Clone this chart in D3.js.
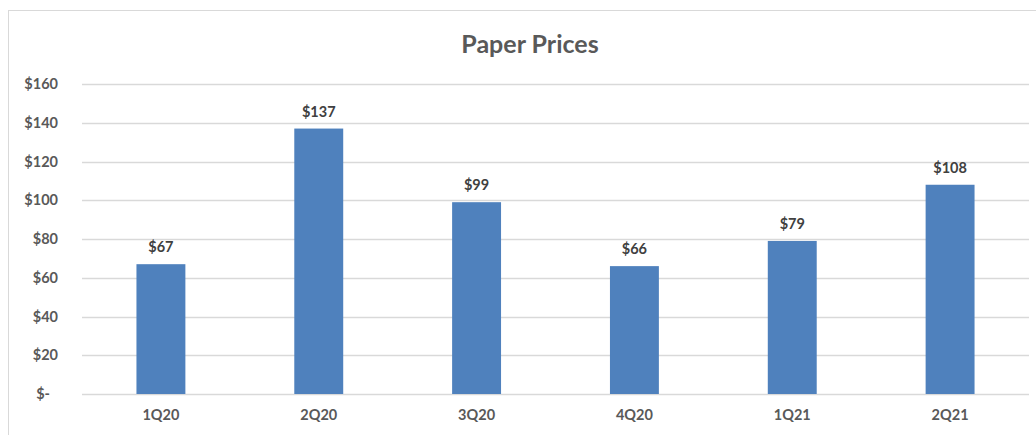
<!DOCTYPE html>
<html>
<head>
<meta charset="utf-8">
<script src="https://cdn.jsdelivr.net/npm/d3@7"></script>
<style>
  body { margin: 0; background: #fff; }
  text { font-family: Lato, "Open Sans", sans-serif; font-weight: bold; }
</style>
</head>
<body>
<svg id="chart" width="1036" height="435"></svg>
<script>
var quarters = ["1Q20", "2Q20", "3Q20", "4Q20", "1Q21", "2Q21"];
var prices = [67, 137, 99, 66, 79, 108];
var yTicks = [0, 20, 40, 60, 80, 100, 120, 140, 160];

var svg = d3.select("svg#chart");
var plotLeft = 82, plotRight = 1029, plotTop = 84, plotBottom = 394;

// chart frame
svg.append("rect")
   .attr("x", 8.5).attr("y", 10.5)
   .attr("width", 1040).attr("height", 440)
   .attr("fill", "white")
   .attr("stroke", "#d9d9d9");

svg.append("text")
   .text("Paper Prices")
   .attr("x", 530).attr("y", 53)
   .attr("text-anchor", "middle")
   .attr("fill", "#595959")
   .style("font-size", "25px");

var xScale = d3.scaleBand().domain(quarters).range([plotLeft, plotRight])
               .paddingInner(0.69).paddingOuter(0.345);
var yScale = d3.scaleLinear().domain([0, 160]).range([plotBottom, plotTop]);

// gridlines
svg.selectAll("line.grid")
   .data(yTicks)
   .enter().append("line")
   .attr("class", "grid")
   .attr("x1", plotLeft).attr("x2", plotRight)
   .attr("y1", function(d){ return Math.round(yScale(d)) + 0.5; })
   .attr("y2", function(d){ return Math.round(yScale(d)) + 0.5; })
   .attr("stroke", "#d9d9d9")
   .attr("stroke-width", 1.3);

// y labels
svg.selectAll("text.ylabel")
   .data(yTicks)
   .enter().append("text")
   .attr("class", "ylabel")
   .text(function(d){ return d === 0 ? "$-" : "$" + d; })
   .attr("x", function(d){ return d === 0 ? 50 : 58; })
   .attr("y", function(d){ return yScale(d) + 5; })
   .attr("text-anchor", "end")
   .attr("fill", "#595959")
   .style("font-size", "14.5px");

// bars
svg.selectAll("rect.bar")
   .data(prices)
   .enter().append("rect")
   .attr("class", "bar")
   .attr("x", function(d, i){ return xScale(quarters[i]); })
   .attr("width", xScale.bandwidth())
   .attr("y", function(d){ return yScale(d); })
   .attr("height", function(d){ return yScale(0) - yScale(d); })
   .attr("fill", "#4f81bd");

// data labels
svg.selectAll("text.vlabel")
   .data(prices)
   .enter().append("text")
   .attr("class", "vlabel")
   .text(function(d){ return "$" + d; })
   .attr("x", function(d, i){ return xScale(quarters[i]) + xScale.bandwidth() / 2; })
   .attr("y", function(d){ return yScale(d) - 12; })
   .attr("text-anchor", "middle")
   .attr("fill", "#404040")
   .style("font-size", "14.5px");

// x labels
svg.selectAll("text.xlabel")
   .data(quarters)
   .enter().append("text")
   .attr("class", "xlabel")
   .text(function(d){ return d; })
   .attr("x", function(d){ return xScale(d) + xScale.bandwidth() / 2; })
   .attr("y", 420)
   .attr("text-anchor", "middle")
   .attr("fill", "#595959")
   .style("font-size", "14.5px");
</script>
</body>
</html>
